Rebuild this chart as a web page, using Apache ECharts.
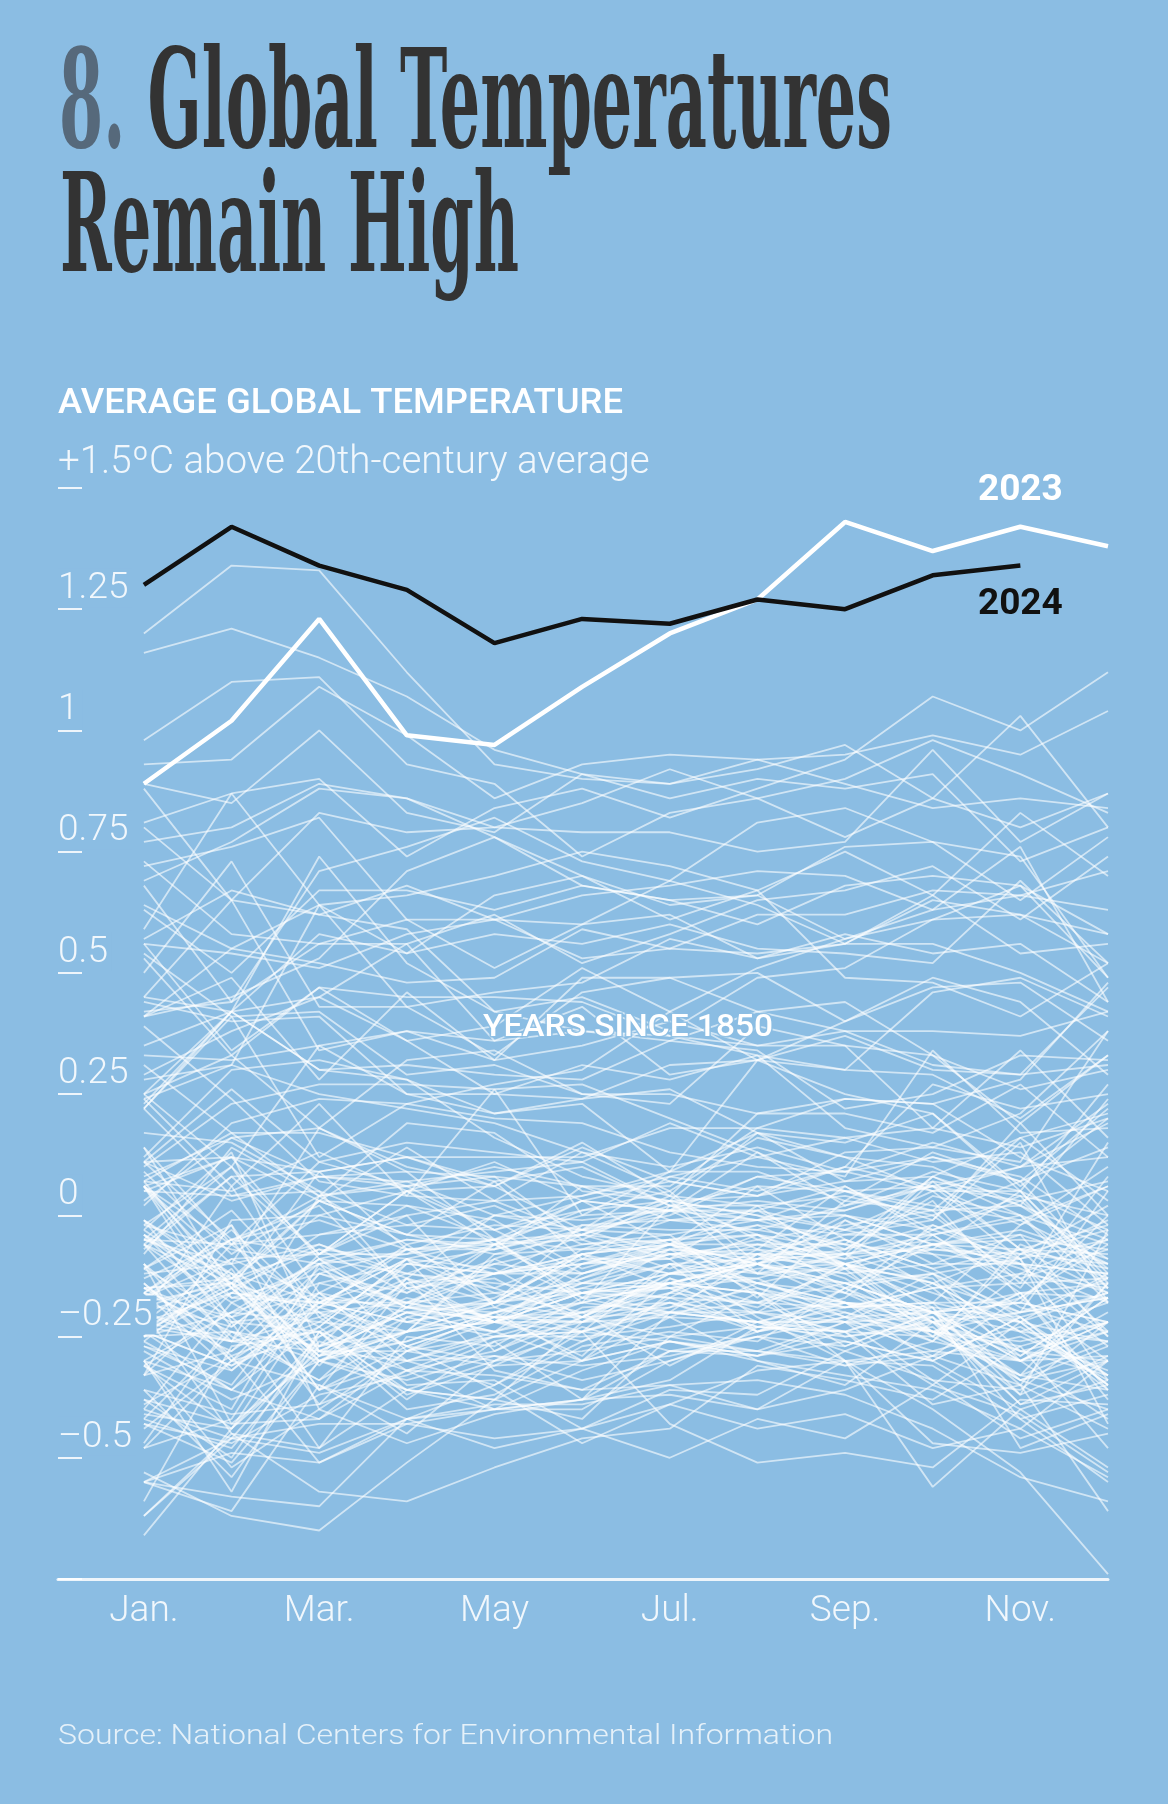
<!DOCTYPE html>
<html>
<head>
<meta charset="utf-8">
<script src="https://cdn.jsdelivr.net/npm/echarts@6/dist/echarts.min.js"></script>
<style>
html,body{margin:0;padding:0;background:#8bbde3;}
#chart{width:1168px;height:1804px;}
</style>
</head>
<body>
<div id="chart"></div>
<script>
// ---------- DATA (monthly anomalies vs 20th-century average, in hundredths of °C) ----------
const monthLabels = ['Jan.','Feb.','Mar.','Apr.','May','Jun.','Jul.','Aug.','Sep.','Oct.','Nov.','Dec.'];
const monthLabelIdx = [0,2,4,6,8,10];
const yTickValues = [-0.5,-0.25,0,0.25,0.5,0.75,1,1.25,1.5];
const yTickLabels = ['–0.5','–0.25','0','0.25','0.5','0.75','1','1.25','+1.5ºC above 20th-century average'];
const firstYear = 1850;

const anom1850s = [
[-48,-30,-35,-45,-30,-21,-14,-10,-18,-22,-28,-24],
[-15,-22,-20,-18,-12,-10,-5,-4,-7,-2,-10,-12],
[-22,-16,-19,-24,-8,-4,2,-1,-6,-12,-20,5],
[-10,-30,-25,-15,-12,-8,-5,-2,-10,-16,-22,-26],
[-25,-20,-14,-10,-12,-9,-12,-6,-8,-14,-20,-17],
[-16,-32,-18,-12,-15,-8,-6,-10,-14,-12,-22,-36],
[-28,-38,-30,-26,-20,-15,-17,-18,-25,-22,-34,-27],
[-20,-45,-48,-36,-40,-32,-26,-30,-33,-36,-44,-30],
[-36,-54,-30,-24,-22,-16,-14,-10,-15,-12,-28,-30],
[-18,-14,-6,-13,-18,-15,-10,-14,-18,-24,-34,-40]];
const anom1860s = [
[-26,-36,-42,-28,-20,-16,-20,-18,-14,-20,-28,-33],
[-42,-24,-30,-36,-38,-22,-18,-20,-22,-28,-30,-24],
[-53,-62,-65,-51,-38,-30,-26,-28,-30,-56,-40,-52],
[-6,-18,-28,-20,-24,-18,-14,-16,-22,-24,-26,-22],
[-55,-58,-60,-42,-35,-26,-20,-22,-28,-34,-46,-40],
[-10,-25,-34,-18,-16,-14,-10,-12,-8,-20,-18,-22],
[-5,-10,-30,-24,-18,-8,-6,-14,-16,-20,-22,-16],
[-26,-12,-36,-14,-22,-10,-6,-4,-10,-14,-24,-34],
[-44,-30,-12,-18,-10,-12,-8,-14,-18,-20,-24,-18],
[-18,-2,-28,-20,-18,-16,-12,-14,-10,-18,-22,-12]];
const anom1870s = [
[-20,-26,-24,-14,-10,-6,-5,-12,-14,-20,-16,-38],
[-48,-42,-14,-18,-22,-16,-14,-16,-20,-26,-30,-22],
[-30,-20,-22,-10,-12,-10,-8,-6,-10,-14,-24,-26],
[-14,-30,-18,-22,-24,-12,-6,-10,-14,-20,-18,-22],
[-6,-26,-28,-36,-30,-24,-20,-22,-24,-18,-34,-30],
[-30,-52,-40,-28,-22,-18,-20,-22,-26,-30,-40,-34],
[-16,-24,-34,-24,-20,-18,-14,-16,-30,-40,-53,-74],
[-40,-18,-10,-8,0,4,8,12,16,18,14,20],
[22,42,30,28,16,8,4,2,0,-6,-10,-16],
[-12,-10,-6,-12,-14,-16,-12,-10,-16,-24,-30,-42]];
const anom1880s = [
[-1,-23,-9,-12,-6,-16,-17,-8,-12,-22,-20,-17],
[-19,-13,3,-4,-5,-18,2,-4,-15,-22,-17,-6],
[17,15,5,-15,-13,-22,-16,-7,-13,-24,-16,-36],
[-31,-40,-10,-19,-18,-7,-5,-15,-21,-24,-33,-14],
[-11,-2,-40,-47,-41,-38,-34,-23,-25,-23,-37,-29],
[-59,-27,-24,-36,-38,-42,-25,-23,-19,-18,-18,0],
[-42,-48,-27,-20,-21,-29,-13,-20,-10,-24,-27,-22],
[-62,-46,-26,-32,-28,-19,-18,-24,-18,-30,-21,-35],
[-33,-16,-18,-18,-21,-13,-8,-10,-7,4,0,-6],
[-8,14,4,6,-3,-12,-7,-16,-18,-21,-33,-26]];
const anom1890s = [
[-43,-47,-37,-33,-26,-22,-21,-30,-35,-22,-39,-30],
[-27,-35,-12,-16,-9,-17,-15,-11,-10,-19,-37,-3],
[-25,-11,-36,-30,-24,-20,-31,-22,-18,-19,-48,-41],
[-66,-44,-28,-30,-35,-24,-18,-23,-24,-19,-21,-33],
[-47,-22,-24,-38,-26,-38,-28,-25,-27,-20,-30,-22],
[-41,-44,-25,-17,-21,-20,-14,-10,-5,-15,-12,-15],
[-23,-15,-29,-24,-9,-3,3,0,-7,3,-17,-4],
[-17,-9,-8,2,-1,-11,-6,-6,-6,-8,-19,-24],
[6,-22,-48,-25,-27,-17,-21,-22,-22,-34,-36,-22],
[-10,-43,-29,-13,-22,-22,-12,-10,-4,-1,15,-18]];
const anom1900s = [
[-33,-1,0,-4,-8,-7,-7,-8,-3,5,-9,-5],
[-23,-26,4,-6,-18,-8,-12,-13,-21,-20,-30,-20],
[-16,-5,-28,-28,-31,-30,-26,-29,-24,-35,-41,-53],
[-16,-3,-20,-35,-34,-44,-39,-44,-41,-48,-44,-54],
[-55,-46,-43,-43,-46,-44,-50,-42,-46,-35,-22,-35],
[-30,-57,-24,-30,-25,-25,-23,-20,-18,-26,-6,-13],
[-24,-31,-23,-9,-28,-21,-25,-16,-27,-20,-35,-14],
[-55,-61,-35,-42,-48,-44,-36,-37,-28,-21,-39,-35],
[-39,-29,-51,-42,-39,-39,-35,-40,-30,-47,-49,-45],
[-62,-45,-57,-59,-52,-46,-44,-31,-34,-38,-27,-48]];
const anom1910s = [
[-38,-43,-42,-32,-33,-36,-35,-34,-37,-44,-54,-59],
[-55,-49,-51,-43,-40,-38,-37,-40,-36,-29,-25,-32],
[-24,-14,-39,-21,-25,-24,-43,-51,-49,-52,-38,-39],
[-36,-41,-39,-32,-40,-40,-30,-25,-31,-26,-12,-5],
[-1,-14,-20,-27,-21,-21,-20,-8,-16,-2,-8,-10],
[-25,-6,-19,-7,-15,-21,-10,-24,-15,-25,-16,-17],
[-16,-21,-36,-27,-36,-47,-39,-32,-30,-31,-42,-55],
[-40,-46,-49,-42,-40,-38,-20,-20,-24,-39,-35,-61],
[-38,-50,-24,-40,-37,-27,-24,-26,-15,-6,-13,-27],
[-15,-26,-21,-13,-32,-36,-28,-29,-22,-21,-42,-37]];
const anom1920s = [
[-20,-28,-16,-30,-29,-34,-30,-24,-21,-29,-35,-44],
[-4,-21,-16,-27,-21,-22,-14,-22,-17,-4,-16,-14],
[-31,-44,-17,-27,-30,-28,-25,-28,-31,-29,-17,-30],
[-24,-36,-23,-37,-31,-23,-28,-28,-22,-14,-7,-8],
[-18,-23,-10,-28,-25,-24,-26,-29,-26,-30,-21,-35],
[-27,-32,-16,-20,-24,-30,-21,-14,-19,-18,-2,6],
[11,-5,2,-15,-22,-24,-19,-10,-12,-10,-10,-25],
[-20,-14,-27,-24,-18,-21,-13,-18,-11,-3,-9,-34],
[-1,-12,-29,-26,-20,-30,-16,-18,-19,-15,-14,-13],
[-43,-51,-30,-34,-29,-31,-29,-25,-21,-12,-9,-43]];
const anom1930s = [
[-31,-20,-9,-19,-20,-14,-14,-9,-8,-7,5,-13],
[-11,-21,-9,-22,-18,-2,-1,1,-3,0,-13,-7],
[6,-17,-18,-9,-16,-20,-16,-9,-5,-11,-21,-16],
[-25,-24,-27,-19,-22,-26,-17,-23,-24,-25,-33,-36],
[-15,-14,-29,-19,-6,-14,-8,-8,-10,-6,-3,-9],
[-20,6,-21,-32,-25,-20,-19,-15,-19,-15,-29,-17],
[-24,-31,-19,-14,-12,-12,-7,-9,-10,-6,-5,-7],
[-11,1,-18,-9,-5,0,1,8,9,5,5,-3],
[11,3,8,9,-5,-7,-1,-1,1,7,4,-15],
[-2,-7,-10,-5,-7,-2,-3,-3,-6,8,2,24]];
const anom1940s = [
[-7,8,9,12,6,14,7,4,10,6,10,23],
[11,26,11,15,13,11,19,12,8,34,17,18],
[22,4,8,6,8,6,-1,-3,2,6,3,7],
[-5,10,-8,5,6,-3,8,5,10,27,22,25],
[31,17,17,12,12,12,18,18,24,23,12,5],
[9,-8,3,14,3,4,9,32,25,21,5,-14],
[6,-6,-4,0,-19,-24,-10,-9,0,-6,-4,-25],
[-15,-13,0,5,-6,3,-6,1,-8,8,0,-15],
[7,-15,-31,-13,0,-3,-8,-7,-9,-6,-7,-24],
[6,-13,-7,-9,-11,-21,-12,-8,-8,-5,-11,-18]];
const anom1950s = [
[-33,-28,-11,-19,-12,-8,-15,-19,-10,-22,-29,-17],
[-30,-36,-19,-6,-2,-3,0,8,5,6,-2,10],
[11,12,-9,-5,-6,-4,1,1,6,-4,-15,8],
[6,12,9,12,7,10,2,6,5,2,-1,6],
[-22,-9,-17,-19,-22,-16,-15,-13,-8,-4,0,-18],
[14,-15,-30,-21,-17,-9,-9,2,-11,-13,-30,-29],
[-14,-29,-22,-24,-22,-14,-15,-24,-20,-24,-20,-13],
[-13,-5,-8,0,3,13,5,16,12,5,10,19],
[39,24,7,4,3,-4,4,-5,-2,1,2,-5],
[7,5,13,5,-3,1,3,0,-3,-7,-9,-1]];
const anom1960s = [
[-3,13,-27,-10,-7,-3,-4,-1,5,1,-14,15],
[3,16,8,7,9,11,2,2,4,0,7,-12],
[5,12,3,2,-5,3,1,-1,0,-3,4,0],
[-2,10,-16,-7,-7,6,6,18,16,11,13,-2],
[-5,-12,-18,-22,-19,-10,-9,-21,-30,-28,-23,-33],
[-3,-15,-7,-16,-6,-5,-11,-4,-11,-7,-8,-3],
[-17,-5,-1,-7,-6,1,5,-10,-1,-10,-4,-10],
[-6,-14,3,-4,7,-9,1,3,1,6,-7,-2],
[-24,-15,9,-7,-12,-4,-9,-5,-9,7,-7,-16],
[-5,-6,4,19,17,5,3,4,7,8,16,21]];
const anom1970s = [
[7,17,4,7,0,-1,1,-7,6,-3,3,-11],
[-4,-17,-12,-7,-5,-17,-7,-2,-4,-4,-1,-10],
[-25,-16,-4,-2,-3,3,1,13,2,9,5,27],
[2,19,24,23,20,19,13,10,9,12,8,-4],
[-22,-26,-8,-8,-5,-4,-6,6,-5,-11,-7,-11],
[5,4,5,-2,2,-6,-4,-17,-1,-8,-10,-12],
[-4,-13,-23,-9,-18,-13,-6,-12,-11,-25,-8,2],
[10,23,27,27,26,27,20,13,5,-1,19,0],
[8,16,18,9,8,-5,3,-12,3,1,16,3],
[6,-10,18,10,6,15,4,21,24,23,28,48]];
const anom1980s = [
[25,33,18,32,34,25,25,21,21,17,27,12],
[53,33,47,36,25,31,28,33,18,14,21,38],
[-6,8,-8,5,11,3,7,4,13,14,11,38],
[54,41,42,29,31,25,23,39,35,18,34,16],
[24,6,23,4,26,0,9,17,12,10,2,-9],
[14,-6,11,6,10,6,3,17,7,12,7,14],
[28,31,25,22,19,13,10,14,9,15,10,12],
[22,41,12,23,27,30,42,32,37,30,29,47],
[56,34,47,45,45,44,37,35,35,33,19,33],
[12,30,32,28,21,24,31,32,30,29,20,33]];
const anom1990s = [
[35,42,74,52,42,38,37,33,30,46,49,41],
[41,49,28,46,32,49,49,42,44,33,26,30],
[44,40,41,25,21,23,9,9,3,13,7,22],
[33,32,35,25,25,24,26,17,15,21,6,20],
[25,10,35,38,36,43,29,32,40,47,48,36],
[50,73,43,43,33,46,49,50,40,49,44,29],
[25,42,30,31,29,28,36,34,22,25,33,32],
[29,38,45,36,39,51,42,51,57,61,62,58],
[59,87,64,66,70,75,72,67,49,48,41,52],
[45,65,34,38,32,35,40,35,38,38,37,42]];
const anom2000s = [
[23,42,45,56,36,38,36,42,38,31,29,31],
[45,42,58,54,58,56,60,55,54,52,69,52],
[72,76,82,61,61,60,62,53,58,54,56,44],
[73,58,56,56,62,52,58,65,67,72,61,74],
[57,67,62,59,42,45,38,49,51,61,68,49],
[63,50,67,67,63,68,65,60,68,70,68,58],
[41,55,52,48,49,59,55,62,62,67,66,71],
[88,65,62,68,61,53,55,54,56,56,50,42],
[24,31,64,43,46,48,57,53,56,65,62,52],
[56,54,51,58,61,66,68,71,70,63,66,63]];
const anom2010s = [
[69,77,88,86,78,68,65,66,57,63,76,44],
[42,44,56,61,51,60,69,64,56,66,54,56],
[41,45,53,71,78,70,64,66,76,77,74,49],
[64,55,64,54,66,70,61,67,75,66,83,70],
[68,44,71,76,82,73,69,81,84,77,65,78],
[81,87,90,74,84,88,82,88,94,107,100,112],
[120,134,133,112,93,90,89,94,89,84,86,84],
[98,110,111,93,89,74,83,86,78,86,80,87],
[77,80,89,86,80,79,79,75,77,96,77,87],
[93,94,109,99,86,93,95,94,95,99,95,104]];
const anom2020s = [
[116,121,115,107,96,91,89,92,97,86,103,80],
[80,65,83,79,80,85,92,86,90,98,91,83],
[89,85,100,83,79,91,86,90,88,91,73,80]];
const anom2023 = [89,102,123,99,97,109,120,127,143,137,142,138];
const anom2024 = [130,142,134,129,118,123,122,127,125,132,134];

// ---------- STYLE ----------
const BG = '#8bbde3';
const LABEL_COLOR = 'rgba(255,255,255,0.88)';
const SANS = 'Roboto, "Noto Sans", sans-serif';

const measureCtx = document.createElement('canvas').getContext('2d');
function textWidth(text, font) { measureCtx.font = font; return measureCtx.measureText(text).width; }

const chart = echarts.init(document.getElementById('chart'), null, {renderer: 'canvas'});

const historical = [].concat(anom1850s, anom1860s, anom1870s, anom1880s, anom1890s, anom1900s,
  anom1910s, anom1920s, anom1930s, anom1940s, anom1950s, anom1960s, anom1970s, anom1980s,
  anom1990s, anom2000s, anom2010s, anom2020s);

const series = historical.map((row, i) => ({
  name: String(firstYear + i),
  type: 'line',
  silent: true,
  symbol: 'none',
  z: 2,
  lineStyle: {color: 'rgba(255,255,255,0.6)', width: 1.8},
  data: row.map((v, m) => [m, v / 100])
}));

function highlighted(values, name, color, labelPos, dist, z) {
  return {
    name: name, type: 'line', silent: true, z: z,
    symbol: 'circle', symbolSize: 0, showSymbol: true,
    itemStyle: {color: color},
    lineStyle: {color: color, width: 4.5},
    data: values.map((v, m) => m === 10 ? {
      value: [m, v / 100],
      label: {show: true, position: labelPos, distance: dist, formatter: name,
        color: color, fontFamily: SANS, fontWeight: 'bold', fontSize: 37}
    } : [m, v / 100])
  };
}
series.push(highlighted(anom2023, '2023', '#ffffff', 'top', 18, 4));
series.push(highlighted(anom2024, '2024', '#111111', 'bottom', 21, 5));

// title text measurement
const titleFont = 'bold 137px "DejaVu Serif"';
const t1a = '8. ', t1b = 'Global Temperatures', t2 = 'Remain High';
const s1 = 833 / textWidth(t1a + t1b, titleFont);
const s2 = 459 / textWidth(t2, titleFont);
const subFont = '500 35px Roboto';
const subText = 'AVERAGE GLOBAL TEMPERATURE';
const sSub = 565 / textWidth(subText, subFont);
const noteFont = '500 31px Roboto';
const noteText = 'YEARS SINCE 1850';
const sNote = 290 / textWidth(noteText, noteFont);
const srcFont = '300 28px Roboto';
const srcText = 'Source: National Centers for Environmental Information';
const sSrc = 775 / textWidth(srcText, srcFont);

const option = {
  backgroundColor: BG,
  animation: false,
  grid: {left: 58, right: 60, top: 488, bottom: 225, containLabel: false},
  xAxis: {
    type: 'value', min: -0.98, max: 11,
    splitLine: {show: false},
    axisTick: {show: false},
    axisLine: {show: true, onZero: false, lineStyle: {color: 'rgba(255,255,255,0.85)', width: 3}},
    axisLabel: {
      customValues: monthLabelIdx,
      formatter: v => monthLabels[Math.round(v)] || '',
      color: LABEL_COLOR, fontFamily: SANS, fontWeight: 300, fontSize: 37, margin: 14
    }
  },
  yAxis: {
    type: 'value', min: -0.75, max: 1.5, interval: 0.25, z: 10,
    splitLine: {show: false},
    axisLine: {show: false, onZero: false},
    axisTick: {show: true, inside: true, length: 24, lineStyle: {color: 'rgba(255,255,255,0.85)', width: 2}},
    axisLabel: {
      inside: true, margin: 0, align: 'left', verticalAlign: 'bottom',
      showMinLabel: true, showMaxLabel: true,
      padding: [0, 0, 2, 0],
      formatter: v => {
        const i = yTickValues.findIndex(t => Math.abs(t - v) < 1e-6);
        if (i < 0) return '';
        return (i === yTickValues.length - 1 ? '{t|' : '{b|') + yTickLabels[i] + '}';
      },
      rich: {
        b: {backgroundColor: BG, padding: [2, 4, 0, 0], color: LABEL_COLOR,
          fontFamily: SANS, fontWeight: 300, fontSize: 37},
        t: {padding: [2, 4, 3, 0], color: LABEL_COLOR,
          fontFamily: SANS, fontWeight: 300, fontSize: 38.5}
      }
    }
  },
  graphic: [
    {type: 'text', x: 59, y: 111, scaleX: s1, z: 100,
      style: {text: '8.', font: titleFont, fill: '#56697b', textVerticalAlign: 'middle'}},
    {type: 'text', x: 59 + textWidth(t1a, titleFont) * s1, y: 111, scaleX: s1, z: 100,
      style: {text: t1b, font: titleFont, fill: '#333333', textVerticalAlign: 'middle'}},
    {type: 'text', x: 60, y: 235, scaleX: s2, z: 100,
      style: {text: t2, font: titleFont, fill: '#333333', textVerticalAlign: 'middle'}},
    {type: 'text', x: 58, y: 404, scaleX: sSub, z: 100,
      style: {text: subText, font: subFont, fill: '#ffffff', textVerticalAlign: 'middle'}},
    {type: 'text', x: 628, y: 1028, scaleX: sNote, z: 100,
      style: {text: noteText, font: noteFont, fill: '#ffffff', textAlign: 'center', textVerticalAlign: 'middle',
        stroke: 'rgba(139,189,227,0.85)', lineWidth: 3}},
    {type: 'text', x: 58, y: 1737, scaleX: sSrc, z: 100,
      style: {text: srcText, font: srcFont, fill: 'rgba(255,255,255,0.78)', textVerticalAlign: 'middle'}}
  ],
  series: series
};
chart.setOption(option);
</script>
</body>
</html>
